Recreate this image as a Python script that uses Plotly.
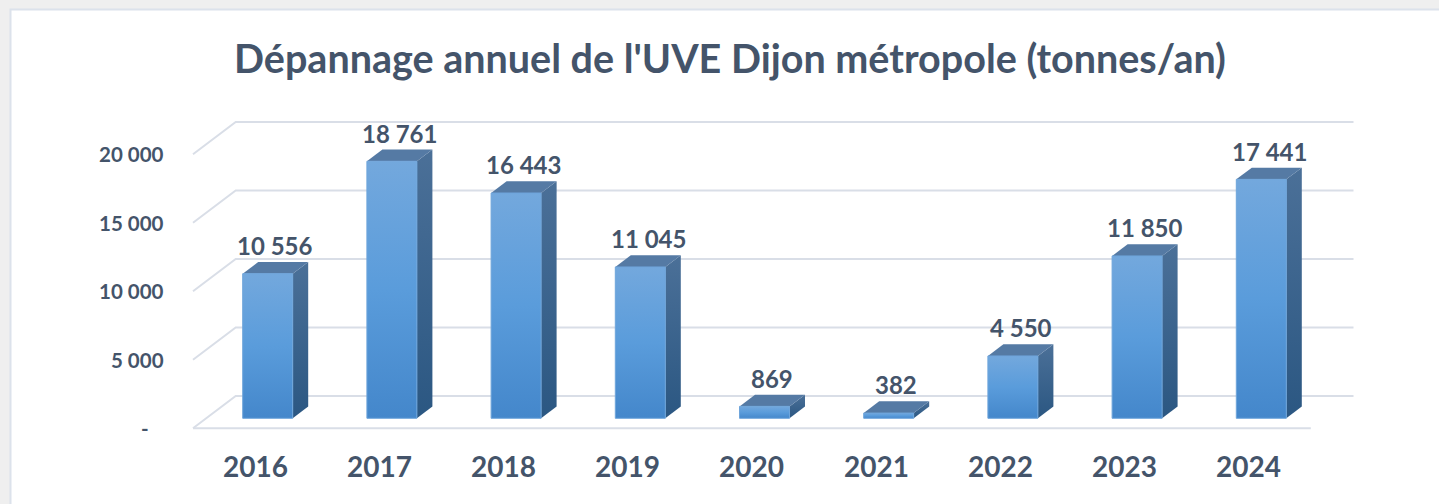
import plotly.graph_objects as go

# ---- data ----
years = ["2016", "2017", "2018", "2019", "2020", "2021", "2022", "2023", "2024"]
values = [10556, 18761, 16443, 11045, 869, 382, 4550, 11850, 17441]
value_labels = ["10 556", "18 761", "16 443", "11 045", "869", "382", "4 550", "11 850", "17 441"]
tick_values = [0, 5000, 10000, 15000, 20000]
tick_labels = ["-\u00a0\u00a0\u00a0", "5 000", "10 000", "15 000", "20 000"]
title_text = "Dépannage annuel de l'UVE Dijon métropole (tonnes/an)"

# ---- pseudo-3D geometry (data units) ----
W, H = 1439, 504
PX_PER_CAT = 124.2
PX_PER_VAL = 0.0137
X0_PX = 255.1      # pixel of category 0 on front plane
Y0_PX = 428.3      # pixel of value 0 on front plane
xr = [-X0_PX / PX_PER_CAT, (W - X0_PX) / PX_PER_CAT]
yr = [(Y0_PX - H) / PX_PER_VAL, Y0_PX / PX_PER_VAL]

BACK_DX, BACK_DY = 42.7 / PX_PER_CAT, 32.3 / PX_PER_VAL      # back wall offset
FRONT_DX, FRONT_DY = 12.6 / PX_PER_CAT, 10.0 / PX_PER_VAL    # bar front face offset
DEPTH_DX, DEPTH_DY = 15.5 / PX_PER_CAT, 11.7 / PX_PER_VAL    # bar depth
BAR_W = 50 / PX_PER_CAT

TEXT = "#44546A"
GRID = "#D9DEE7"
FONT = "Lato"

fig = go.Figure()

n = len(years)
left = -0.5
right = n - 0.5

# gridlines: side wall diagonal + back wall horizontal
for t in tick_values:
    fig.add_trace(go.Scatter(
        x=[left, left + BACK_DX, right + BACK_DX],
        y=[t, t + BACK_DY, t + BACK_DY],
        mode="lines", line=dict(color=GRID, width=2),
        hoverinfo="skip", showlegend=False))
# floor front edge
fig.add_trace(go.Scatter(
    x=[left, right], y=[0, 0], mode="lines",
    line=dict(color=GRID, width=2), hoverinfo="skip", showlegend=False))

# bars
for i, v in enumerate(values):
    cx = i + FRONT_DX
    x0, x1 = cx - BAR_W / 2, cx + BAR_W / 2
    yb, yt = FRONT_DY, v + FRONT_DY
    # side face
    fig.add_trace(go.Scatter(
        x=[x1, x1 + DEPTH_DX, x1 + DEPTH_DX, x1, x1],
        y=[yb, yb + DEPTH_DY, yt + DEPTH_DY, yt, yb],
        mode="lines", line=dict(width=0), fill="toself",
        fillgradient=dict(type="vertical", colorscale=[[0, "#2B5782"], [1, "#4B7098"]]),
        hoverinfo="skip", showlegend=False))
    # top face
    fig.add_trace(go.Scatter(
        x=[x0, x1, x1 + DEPTH_DX, x0 + DEPTH_DX, x0],
        y=[yt, yt, yt + DEPTH_DY, yt + DEPTH_DY, yt],
        mode="lines", line=dict(width=0), fill="toself", fillcolor="#557AA4",
        hoverinfo="skip", showlegend=False))
    # front face
    fig.add_trace(go.Scatter(
        x=[x0, x1, x1, x0, x0],
        y=[yb, yb, yt, yt, yb],
        mode="lines", line=dict(width=1, color="#6FA5DB"), fill="toself",
        fillgradient=dict(type="vertical", colorscale=[[0, "#4487CB"], [0.5, "#5A9CDB"], [1, "#73A8DD"]]),
        hovertemplate=years[i] + ": " + value_labels[i] + "<extra></extra>",
        showlegend=False))
    # value label
    fig.add_annotation(
        x=cx + DEPTH_DX / 2, y=yt + DEPTH_DY, xref="x", yref="y",
        text=value_labels[i], showarrow=False, xanchor="center", yanchor="bottom",
        font=dict(family=FONT, size=24, color=TEXT, weight="bold"))
    # category label
    fig.add_annotation(
        x=i, y=0, xref="x", yref="y", text=years[i], showarrow=False,
        xanchor="center", yanchor="middle", yshift=-38,
        font=dict(family=FONT, size=28, color=TEXT, weight="bold"))

# y tick labels
for t, lab in zip(tick_values, tick_labels):
    fig.add_annotation(
        x=left, y=t, xref="x", yref="y", text=lab, showarrow=False,
        xanchor="right", yanchor="middle", xshift=-27,
        font=dict(family=FONT, size=20.5, color=TEXT, weight="bold"))

# card background
fig.add_shape(type="rect", xref="paper", yref="paper",
              x0=10.5 / W, x1=1.02, y0=-0.02, y1=1 - 9.5 / H,
              fillcolor="white", line=dict(color="#DCE2EB", width=2), layer="below")

fig.update_layout(
    width=W, height=H,
    margin=dict(l=0, r=0, t=0, b=0),
    paper_bgcolor="#EFEFEF", plot_bgcolor="rgba(0,0,0,0)",
    xaxis=dict(range=xr, visible=False, fixedrange=True),
    yaxis=dict(range=yr, visible=False, fixedrange=True),
    title=dict(text=title_text, x=730 / W, xanchor="center", y=1 - 59 / H, yanchor="middle",
               font=dict(family=FONT, size=39.5, color=TEXT, weight="bold")),
    showlegend=False,
)

fig.write_html("out.html", config={"displayModeBar": False},
               post_script="document.body.style.margin='0';document.body.style.overflow='hidden';document.body.style.background='#EFEFEF';")
